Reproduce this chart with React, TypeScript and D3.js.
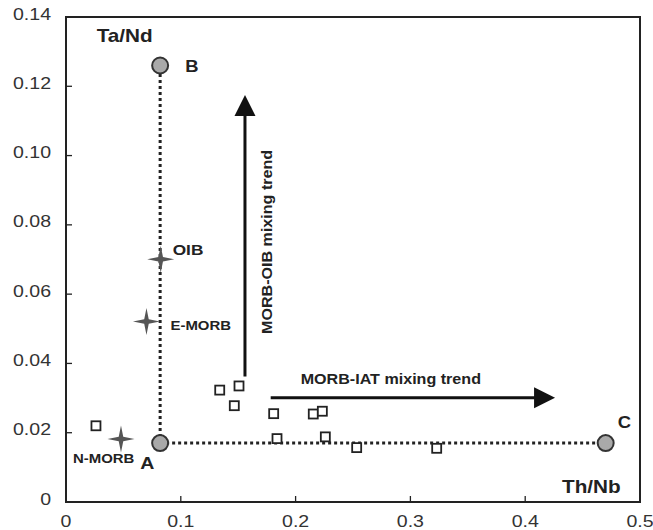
import React from "react";
import * as d3 from "d3";

const xTicks = [0, 0.1, 0.2, 0.3, 0.4, 0.5];
const xTickLabels = ["0", "0.1", "0.2", "0.3", "0.4", "0.5"];
const yTicks = [0, 0.02, 0.04, 0.06, 0.08, 0.1, 0.12, 0.14];
const yTickLabels = ["0", "0.02", "0.04", "0.06", "0.08", "0.10", "0.12", "0.14"];

// End members (grey circles)
const endNames = ["A", "B", "C"];
const endThNb = [0.082, 0.082, 0.4701];
const endTaNd = [0.017, 0.126, 0.017];

// Reference compositions (stars)
const refNames = ["OIB", "E-MORB", "N-MORB"];
const refThNb = [0.0825, 0.0701, 0.0479];
const refTaNd = [0.0701, 0.0521, 0.0182];

// Samples (open squares)
const sampleThNb = [0.0261, 0.1339, 0.1507, 0.1466, 0.1809, 0.1838, 0.2154, 0.2233, 0.2259, 0.2532, 0.3229];
const sampleTaNd = [0.022, 0.0323, 0.0335, 0.0278, 0.0255, 0.0183, 0.0254, 0.0262, 0.0188, 0.0157, 0.0155];

// Trend arrows
const trendNames = ["MORB-OIB mixing trend", "MORB-IAT mixing trend"];
const trendX0 = [0.1559, 0.1783];
const trendY0 = [0.0362, 0.0301];
const trendX1 = [0.1559, 0.426];
const trendY1 = [0.1175, 0.0301];

const W = 653;
const H = 530;
const SX = 1.15;
const FONT = "'Liberation Sans', Arial, Helvetica, sans-serif";
const INK = "#222";

function Txt(props: {
  x: number; y: number; size: number; bold?: boolean; anchor?: string; rotate?: number; fill?: string; children: React.ReactNode;
}) {
  const { x, y, size, bold, anchor, rotate, fill, children } = props;
  return (
    <text
      transform={`translate(${x},${y})${rotate ? ` rotate(${rotate})` : ""} scale(${SX},1)`}
      fontFamily={FONT}
      fontSize={size}
      fontWeight={bold ? "bold" : "normal"}
      textAnchor={anchor || "start"}
      fill={fill || INK}
    >
      {children}
    </text>
  );
}

export default function App() {
  const x = d3.scaleLinear().domain([0, 0.5]).range([66, 640]);
  const y = d3.scaleLinear().domain([0, 0.14]).range([502, 17]);

  const starPts: [number, number][] = [];
  for (let i = 0; i < 8; i++) {
    starPts.push([(i * Math.PI) / 4, i % 2 === 0 ? 13.5 : 3.2]);
  }
  const starPath = d3.lineRadial().curve(d3.curveLinearClosed)(starPts) || "";

  const labelOffsets: Record<string, [number, number]> = {
    A: [-20, 26],
    B: [25, 6],
    C: [12, -15],
    OIB: [12, -4],
    "E-MORB": [24, 8],
    "N-MORB": [-48, 24],
  };

  const A = { x: x(endThNb[0]), y: y(endTaNd[0]) };
  const B = { x: x(endThNb[1]), y: y(endTaNd[1]) };
  const C = { x: x(endThNb[2]), y: y(endTaNd[2]) };

  const headLen = 21;
  const headHalf = 10.5;

  return (
    <div style={{ position: "absolute", left: 0, top: 0 }}>
      <svg width={W} height={H} style={{ display: "block", background: "#fff" }}>
        {/* frame */}
        <rect x={x(0)} y={y(0.14)} width={x(0.5) - x(0)} height={y(0) - y(0.14)} fill="none" stroke={INK} strokeWidth={2} />
        {/* y ticks */}
        {yTicks.map((t, i) => (
          <g key={"yt" + i}>
            {t > 0 && t < 0.14 && <line x1={x(0)} x2={x(0) + 6} y1={y(t)} y2={y(t)} stroke={INK} strokeWidth={1.3} />}
            <Txt x={51} y={y(t) + 2.5} size={17} anchor="end" fill="#333">{yTickLabels[i]}</Txt>
          </g>
        ))}
        {/* x ticks */}
        {xTicks.map((t, i) => (
          <g key={"xt" + i}>
            {t > 0 && t < 0.5 && <line x1={x(t)} x2={x(t)} y1={y(0)} y2={y(0) - 6} stroke={INK} strokeWidth={1.3} />}
            <Txt x={x(t)} y={527} size={17} anchor="middle" fill="#333">{xTickLabels[i]}</Txt>
          </g>
        ))}
        {/* axis titles */}
        <Txt x={96.7} y={42} size={18} bold>Ta/Nd</Txt>
        <Txt x={562} y={493} size={18} bold>Th/Nb</Txt>

        {/* mixing lines */}
        <line x1={A.x} y1={A.y} x2={B.x} y2={B.y} stroke={INK} strokeWidth={3} strokeDasharray="3,3" />
        <line x1={A.x} y1={A.y} x2={C.x} y2={C.y} stroke={INK} strokeWidth={3} strokeDasharray="3,3" />

        {/* trend arrows */}
        {trendNames.map((n, i) => {
          const x0 = x(trendX0[i]), y0 = y(trendY0[i]), x1 = x(trendX1[i]), y1 = y(trendY1[i]);
          const len = Math.hypot(x1 - x0, y1 - y0);
          const ux = (x1 - x0) / len, uy = (y1 - y0) / len;
          const bx = x1 - ux * headLen, by = y1 - uy * headLen;
          const px = -uy, py = ux;
          const pts = [[x1, y1], [bx + px * headHalf, by + py * headHalf], [bx - px * headHalf, by - py * headHalf]]
            .map((p) => p.join(",")).join(" ");
          return (
            <g key={"tr" + i}>
              <line x1={x0} y1={y0} x2={bx + ux * 2} y2={by + uy * 2} stroke="#111" strokeWidth={3} />
              <polygon points={pts} fill="#111" />
            </g>
          );
        })}
        <Txt x={x(trendX0[0]) + 27} y={334} size={14} bold rotate={-90}>{trendNames[0]}</Txt>
        <Txt x={300.7} y={y(trendY0[1]) - 13.5} size={14} bold>{trendNames[1]}</Txt>

        {/* samples */}
        {sampleThNb.map((v, i) => (
          <rect key={"s" + i} x={x(v) - 4.5} y={y(sampleTaNd[i]) - 4.5} width={9} height={9} fill="#fff" stroke={INK} strokeWidth={1.8} />
        ))}

        {/* reference stars */}
        {refNames.map((n, i) => (
          <g key={"r" + i}>
            <path d={starPath} transform={`translate(${x(refThNb[i])},${y(refTaNd[i])})`} fill="#555" />
            <Txt x={x(refThNb[i]) + labelOffsets[n][0]} y={y(refTaNd[i]) + labelOffsets[n][1]} size={n === "OIB" ? 15 : 13} bold>{n}</Txt>
          </g>
        ))}

        {/* end members */}
        {endNames.map((n, i) => (
          <g key={"e" + i}>
            <circle cx={x(endThNb[i])} cy={y(endTaNd[i])} r={8} fill="#a9a9a9" stroke="#333" strokeWidth={2} />
            <Txt x={x(endThNb[i]) + labelOffsets[n][0]} y={y(endTaNd[i]) + labelOffsets[n][1]} size={n === "A" ? 17 : 16} bold>{n}</Txt>
          </g>
        ))}
      </svg>
    </div>
  );
}
